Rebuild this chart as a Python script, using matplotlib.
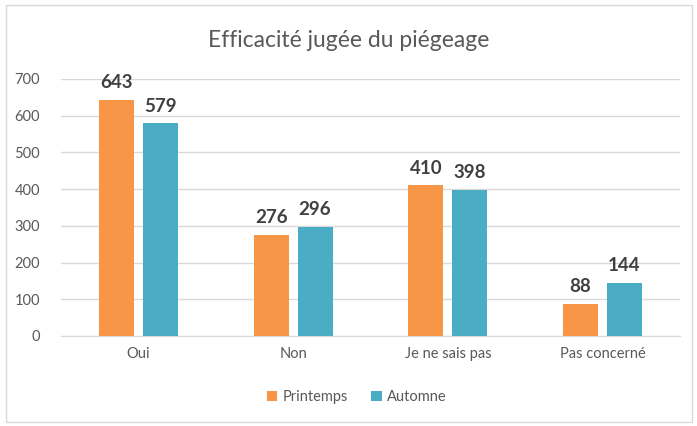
import numpy as np
import matplotlib.pyplot as plt
from matplotlib.patches import Rectangle

plt.rcParams['font.family'] = ['Lato', 'DejaVu Sans']

categories = ['Oui', 'Non', 'Je ne sais pas', 'Pas concerné']
printemps = [643, 276, 410, 88]
automne = [579, 296, 398, 144]
series_names = ['Printemps', 'Automne']

orange = '#F79646'
blue = '#4BACC6'
text_grey = '#595959'

fig = plt.figure(figsize=(6.97, 4.26), dpi=100)
ax = fig.add_axes([0.0875, 0.2113, 0.888, 0.6033])

x = np.arange(len(categories))
w = 0.226
off = 0.142
b1 = ax.bar(x - off, printemps, w, color=orange, label=series_names[0], zorder=3)
b2 = ax.bar(x + off, automne, w, color=blue, label=series_names[1], zorder=3)

# étiquettes de données au-dessus des barres
for bars, vals in ((b1, printemps), (b2, automne)):
    for rect, v in zip(bars, vals):
        ax.text(rect.get_x() + rect.get_width() / 2, v + 24, str(v),
                ha='center', va='bottom', fontsize=13.5, fontweight='bold',
                color='#404040')

ax.set_xlim(-0.5, 3.5)
ax.set_ylim(0, 700)
ax.set_yticks(range(0, 701, 100))
ax.set_xticks(x)
ax.set_xticklabels(categories)
ax.tick_params(axis='both', length=0, labelsize=10.5, colors=text_grey)
ax.tick_params(axis='x', pad=8)
ax.tick_params(axis='y', pad=15)
ax.grid(axis='y', color='#D9D9D9', linewidth=1, zorder=0)
for s in ['top', 'right', 'left']:
    ax.spines[s].set_visible(False)
ax.spines['bottom'].set_color('#D9D9D9')

fig.text(0.5, 0.905, 'Efficacité jugée du piégeage', ha='center', va='center',
         fontsize=16.5, color=text_grey)

fig.legend(loc='center', bbox_to_anchor=(0.512, 0.068), ncol=2, frameon=False,
           fontsize=10.5, handlelength=0.7, handleheight=0.7, columnspacing=1.6,
           handletextpad=0.4, labelcolor=text_grey)

# cadre du graphique
fig.add_artist(Rectangle((0.008, 0.01), 0.985, 0.978, transform=fig.transFigure,
                         fill=False, edgecolor='#D9D9D9', linewidth=1))

fig.savefig('out.png', dpi=100)
